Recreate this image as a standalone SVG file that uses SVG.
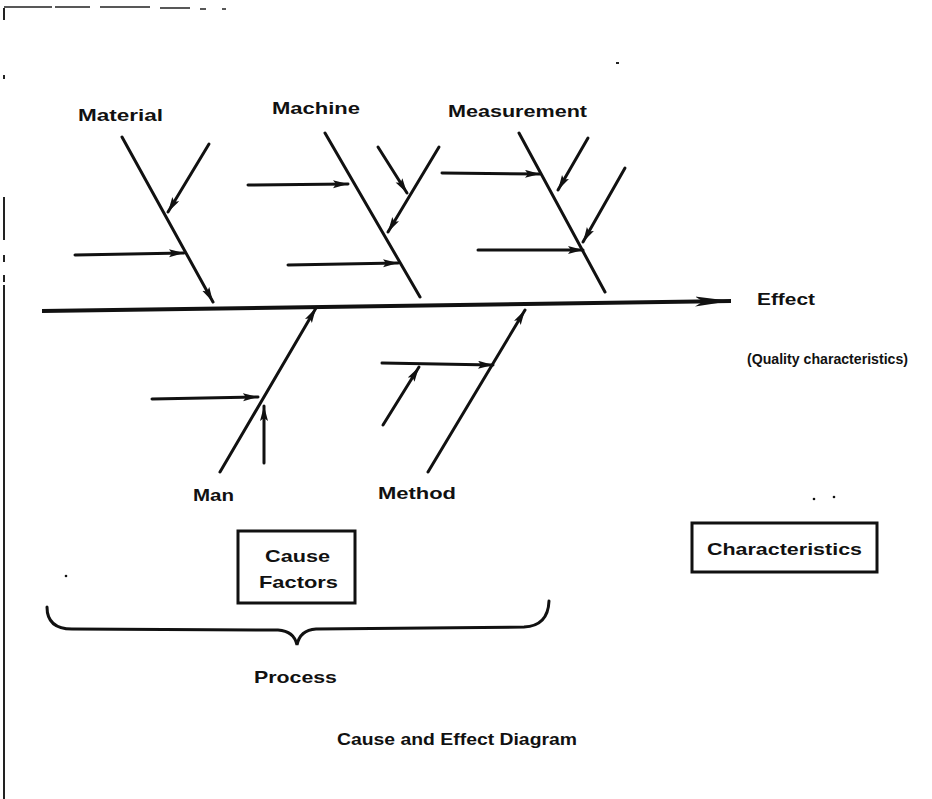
<svg xmlns="http://www.w3.org/2000/svg" width="932" height="799" viewBox="0 0 932 799">
<style>
.lbl{font-family:"Liberation Sans",Arial,sans-serif;font-weight:bold;font-size:17px;fill:#111}
.bone{stroke:#111;stroke-width:3;fill:none;stroke-linecap:round}
.sub{stroke:#111;stroke-width:3;fill:none;stroke-linecap:round}
.box{stroke:#111;stroke-width:3;fill:#fff}
.scan{stroke:#222;fill:none}
</style>
<defs>
<marker id="ah" markerUnits="userSpaceOnUse" markerWidth="16" markerHeight="10" refX="15" refY="4" orient="auto">
<path d="M0,0 L15,4 L0,8 L3,4 z" fill="#111"/>
</marker>
<marker id="big" markerUnits="userSpaceOnUse" markerWidth="38" markerHeight="12" refX="36" refY="5" orient="auto">
<path d="M0,0 L36,5 L0,10 L8,5 z" fill="#111"/>
</marker>
</defs>
<rect width="932" height="799" fill="#fff"/>
<g id="scan-edge">
<path class="scan" stroke-width="2" d="M4,8 L4,20 M4,75 L4,79 M4,197 L4,240 M4,255 L4,262 M4,275 L4,282 M4,285 L4,799"/>
<path class="scan" stroke-width="1.5" d="M4,7 L52,7 M55,7 L90,7 M100,7 L150,7 M160,8 L190,8 M200,9 L206,9 M222,9 L226,9"/>
<path class="scan" stroke-width="2" d="M616,63 L619,63"/>
<circle cx="66" cy="576" r="1.3" fill="#111"/>
<circle cx="814" cy="499" r="1.3" fill="#111"/>
<circle cx="834" cy="497" r="1.3" fill="#111"/>
</g>
<g id="connectors">
<path id="spine" d="M42,311 L731,301" stroke="#111" stroke-width="4" fill="none" marker-end="url(#big)"/>
<!-- Material -->
<path class="bone" d="M122,137 L213,302" marker-end="url(#ah)"/>
<path class="sub" d="M209,144 L168,212" marker-end="url(#ah)"/>
<path class="sub" d="M75,255 L184,253" marker-end="url(#ah)"/>
<!-- Machine -->
<path class="bone" d="M325,133 L420,297"/>
<path class="sub" d="M248,185 L348,184" marker-end="url(#ah)"/>
<path class="sub" d="M378,147 L407,193" marker-end="url(#ah)"/>
<path class="sub" d="M439,147 L388,232" marker-end="url(#ah)"/>
<path class="sub" d="M288,265 L398,263" marker-end="url(#ah)"/>
<!-- Measurement -->
<path class="bone" d="M519,133 L605,292"/>
<path class="sub" d="M442,173 L540,174" marker-end="url(#ah)"/>
<path class="sub" d="M588,138 L558,190" marker-end="url(#ah)"/>
<path class="sub" d="M625,168 L583,242" marker-end="url(#ah)"/>
<path class="sub" d="M478,250 L583,250" marker-end="url(#ah)"/>
<!-- Man -->
<path class="bone" d="M220,472 L316,308" marker-end="url(#ah)"/>
<path class="sub" d="M152,399 L258,397" marker-end="url(#ah)"/>
<path class="sub" d="M264,463 L264,406" marker-end="url(#ah)"/>
<!-- Method -->
<path class="bone" d="M428,472 L525,310" marker-end="url(#ah)"/>
<path class="sub" d="M382,363 L493,365" marker-end="url(#ah)"/>
<path class="sub" d="M383,425 L419,367" marker-end="url(#ah)"/>
</g>
<g id="material"><text class="lbl" x="78" y="121" textLength="85" lengthAdjust="spacingAndGlyphs">Material</text></g>
<g id="machine"><text class="lbl" x="272" y="114" textLength="88" lengthAdjust="spacingAndGlyphs">Machine</text></g>
<g id="measurement"><text class="lbl" x="448" y="117" textLength="139" lengthAdjust="spacingAndGlyphs">Measurement</text></g>
<g id="man"><text class="lbl" x="193" y="501" textLength="41" lengthAdjust="spacingAndGlyphs">Man</text></g>
<g id="method"><text class="lbl" x="378" y="499" textLength="78" lengthAdjust="spacingAndGlyphs">Method</text></g>
<g id="effect">
<text class="lbl" x="757" y="305" textLength="58" lengthAdjust="spacingAndGlyphs">Effect</text>
<text class="lbl" x="747" y="364" style="font-size:15px" textLength="161" lengthAdjust="spacingAndGlyphs">(Quality characteristics)</text>
</g>
<g id="cause-factors">
<rect class="box" x="238" y="531" width="117" height="72"/>
<text class="lbl" x="265" y="562" textLength="65" lengthAdjust="spacingAndGlyphs">Cause</text>
<text class="lbl" x="259" y="588" textLength="79" lengthAdjust="spacingAndGlyphs">Factors</text>
</g>
<g id="characteristics">
<rect class="box" x="692" y="523" width="185" height="49"/>
<text class="lbl" x="707" y="555" textLength="155" lengthAdjust="spacingAndGlyphs">Characteristics</text>
</g>
<g id="process">
<path d="M47,607 Q47,629 72,629 L278,630 Q294,631 297,645 Q300,630 316,629 L524,627 Q548,626 549,601" stroke="#111" stroke-width="3" fill="none" stroke-linecap="round"/>
<text class="lbl" x="254" y="683" textLength="83" lengthAdjust="spacingAndGlyphs">Process</text>
</g>
<g id="title"><text class="lbl" x="337" y="745" textLength="240" lengthAdjust="spacingAndGlyphs">Cause and Effect Diagram</text></g>
</svg>
